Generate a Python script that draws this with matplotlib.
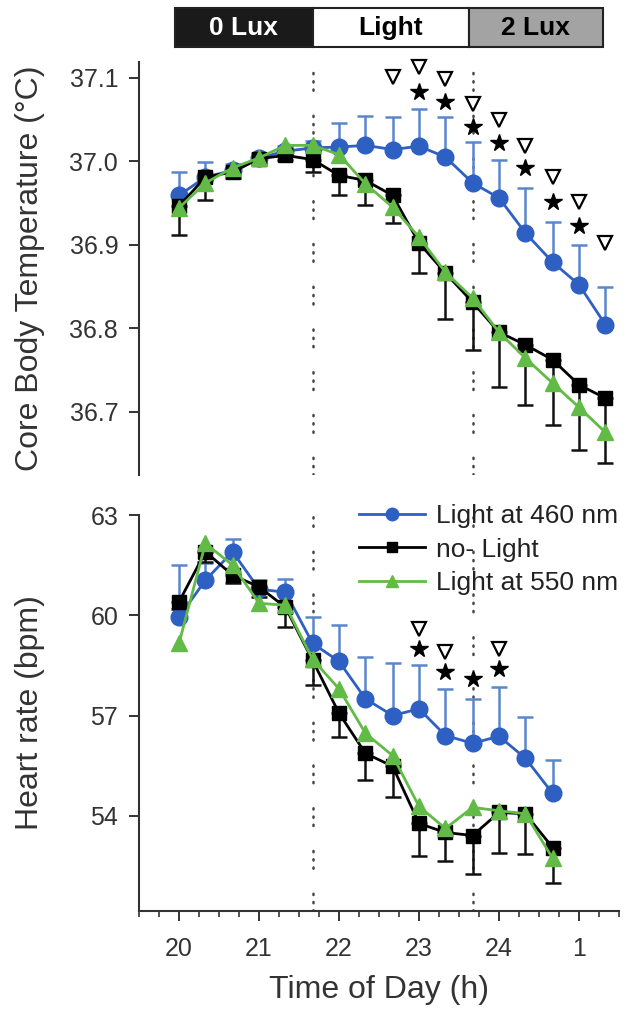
import numpy as np
import matplotlib
matplotlib.use("Agg")
import matplotlib.pyplot as plt
from matplotlib.patches import Rectangle
from matplotlib.ticker import MultipleLocator

plt.rcParams['font.family'] = ['Liberation Sans', 'DejaVu Sans']

# time points (h), 20 min bins
t_temp = [20.0, 20.33, 20.67, 21.0, 21.33, 21.67, 22.0, 22.33, 22.67,
          23.0, 23.33, 23.67, 24.0, 24.33, 24.67, 25.0, 25.33]
t_hr = t_temp[:15]

# core body temperature (°C)
temp_460 = [36.959, 36.981, 36.989, 37.004, 37.012, 37.016, 37.017, 37.019, 37.014,
            37.018, 37.005, 36.974, 36.956, 36.914, 36.879, 36.852, 36.804]
temp_460_err = [0.028, 0.018, 0.008, 0.006, 0.006, 0.008, 0.029, 0.035, 0.039,
                0.044, 0.048, 0.049, 0.046, 0.054, 0.048, 0.048, 0.045]
temp_dark = [36.946, 36.981, 36.987, 37.003, 37.007, 37.002, 36.983, 36.977, 36.959,
             36.902, 36.866, 36.831, 36.795, 36.780, 36.762, 36.732, 36.716]
temp_dark_err = [0.035, 0.028, 0.007, 0.005, 0.005, 0.015, 0.023, 0.030, 0.033,
                 0.036, 0.055, 0.057, 0.066, 0.072, 0.078, 0.078, 0.078]
temp_550 = [36.944, 36.974, 36.992, 37.004, 37.019, 37.019, 37.008, 36.973, 36.945,
            36.909, 36.867, 36.836, 36.795, 36.764, 36.734, 36.705, 36.675]

# heart rate (bpm)
hr_460 = [59.94, 61.05, 61.9, 60.78, 60.69, 59.16, 58.62, 57.5, 57.0,
          57.2, 56.4, 56.17, 56.38, 55.72, 54.67]
hr_460_err = [1.56, 0.5, 0.37, 0.27, 0.41, 0.78, 1.08, 1.24, 1.56,
              1.3, 1.38, 1.31, 1.46, 1.25, 0.99]
hr_dark = [60.4, 61.9, 61.2, 60.85, 60.24, 58.65, 57.07, 55.87, 55.48,
           53.77, 53.5, 53.41, 54.1, 54.06, 53.05]
hr_dark_err = [0.2, 0.3, 0.24, 0.3, 0.6, 0.75, 0.72, 0.81, 0.93,
               0.97, 0.84, 1.14, 1.2, 1.19, 1.07]
hr_550 = [59.16, 62.15, 61.5, 60.36, 60.3, 58.68, 57.8, 56.47, 55.8,
          54.28, 53.62, 54.25, 54.15, 54.06, 52.73]

# significance marks
tri_t_x = [22.67, 23.0, 23.33, 23.67, 24.0, 24.33, 24.67, 25.0, 25.33]
tri_t_y = [37.101, 37.113, 37.099, 37.069, 37.049, 37.018, 36.981, 36.951, 36.902]
star_t_x = [23.0, 23.33, 23.67, 24.0, 24.33, 24.67, 25.0]
star_t_y = [37.083, 37.071, 37.041, 37.022, 36.992, 36.951, 36.922]
tri_h_x = [23.0, 23.33, 24.0]
tri_h_y = [59.58, 58.89, 58.98]
star_h_x = [23.0, 23.33, 23.67, 24.0]
star_h_y = [58.98, 58.29, 58.08, 58.38]

# lighting schedule
phase_edges = [19.95, 21.67, 23.62, 25.3]
phase_names = ['0 Lux', 'Light', '2 Lux']
phase_fill = ['#1a1a1a', 'white', '#a3a3a3']
phase_text = ['white', 'black', 'black']

light_on = [21.67, 23.67]
hour_ticks = [20, 21, 22, 23, 24, 25]
hour_labels = ['20', '21', '22', '23', '24', '1']

BLUE = '#2e5fc2'
BLUE_ERR = '#5a86cc'
GREEN = '#62bb46'

fig = plt.figure(figsize=(6.27, 10.17), dpi=100)
ax_bar = fig.add_axes([0.2217, 0.9538, 0.7656, 0.0383])
ax_t = fig.add_axes([0.2217, 0.5330, 0.7656, 0.4061])
ax_h = fig.add_axes([0.2217, 0.1042, 0.7656, 0.3894])

# schedule bar
ax_bar.set_xlim(19.5, 25.5)
ax_bar.set_ylim(0, 1)
ax_bar.axis('off')
for i, name in enumerate(phase_names):
    x0, x1 = phase_edges[i], phase_edges[i + 1]
    ax_bar.add_patch(Rectangle((x0, 0), x1 - x0, 1, facecolor=phase_fill[i],
                               edgecolor='#222222', lw=1.5, clip_on=False))
    ax_bar.text((x0 + x1) / 2, 0.5, name, color=phase_text[i], ha='center',
                va='center', fontsize=19, fontweight='bold')


def draw_series(ax, x, y460, e460, ydark, edark, y550):
    ax.errorbar(x, y460, yerr=[np.zeros(len(e460)), e460], fmt='none',
                ecolor=BLUE_ERR, elinewidth=1.8, capsize=6, capthick=1.8, zorder=2)
    ax.errorbar(x, ydark, yerr=[edark, np.zeros(len(edark))], fmt='none',
                ecolor='#111111', elinewidth=1.8, capsize=6, capthick=1.8, zorder=2)
    ax.plot(x, y460, color=BLUE, lw=2.0, marker='o', ms=12, mfc=BLUE, mec=BLUE,
            zorder=3, label='Light at 460 nm')
    ax.plot(x, ydark, color='black', lw=2.0, marker='s', ms=10, mfc='black',
            mec='black', zorder=4, label='no- Light')
    ax.plot(x, y550, color=GREEN, lw=2.0, marker='^', ms=12, mfc=GREEN, mec=GREEN,
            zorder=5, label='Light at 550 nm')
    for xv in light_on:
        ax.axvline(xv, color='#444444', lw=1.8, dashes=(0.5, 2.8, 0.5, 2.8, 0.5, 10),
                   dash_capstyle='round', zorder=1)


draw_series(ax_t, t_temp, temp_460, temp_460_err, temp_dark, temp_dark_err, temp_550)
draw_series(ax_h, t_hr, hr_460, hr_460_err, hr_dark, hr_dark_err, hr_550)

for ax, tx, ty, sx, sy in [(ax_t, tri_t_x, tri_t_y, star_t_x, star_t_y),
                           (ax_h, tri_h_x, tri_h_y, star_h_x, star_h_y)]:
    ax.plot(tx, ty, ls='none', marker='v', ms=10, mfc='white', mec='black',
            mew=1.6, clip_on=False, zorder=6)
    ax.plot(sx, sy, ls='none', marker='*', ms=13, mfc='black', mec='black',
            clip_on=False, zorder=6)

for ax in (ax_t, ax_h):
    ax.set_xlim(19.5, 25.5)
    for side in ('top', 'right'):
        ax.spines[side].set_visible(False)
    ax.spines['left'].set_linewidth(1.5)
    ax.spines['left'].set_color('#333333')
    ax.tick_params(axis='y', direction='out', length=7, width=1.4, pad=8,
                   labelsize=18, colors='#333333')

# temperature panel
ax_t.set_ylim(36.624, 37.119)
ax_t.set_yticks([36.7, 36.8, 36.9, 37.0, 37.1])
ax_t.spines['bottom'].set_visible(False)
ax_t.tick_params(axis='x', bottom=False, labelbottom=False)
ax_t.set_ylabel('Core Body Temperature (°C)', fontsize=23, color='#333333')
ax_t.yaxis.set_label_coords(-0.196, 0.5)

# heart rate panel
ax_h.set_ylim(51.15, 63)
ax_h.set_yticks([54, 57, 60, 63])
ax_h.spines['bottom'].set_linewidth(1.5)
ax_h.spines['bottom'].set_color('#333333')
ax_h.set_xticks(hour_ticks)
ax_h.set_xticklabels(hour_labels)
ax_h.xaxis.set_minor_locator(MultipleLocator(0.25))
ax_h.tick_params(axis='x', which='major', direction='out', length=7, width=1.4,
                 pad=12, labelsize=18, colors='#333333')
ax_h.tick_params(axis='x', which='minor', direction='out', length=4, width=1.2,
                 colors='#333333')
ax_h.set_ylabel('Heart rate (bpm)', fontsize=23, color='#333333')
ax_h.yaxis.set_label_coords(-0.196, 0.5)
ax_h.set_xlabel('Time of Day (h)', fontsize=23, color='#333333', labelpad=10)

ax_h.legend(loc='upper left', bbox_to_anchor=(0.43, 1.06), frameon=False,
            fontsize=19, handlelength=2.5, handletextpad=0.45, labelspacing=0.35,
            borderpad=0, markerscale=0.75, labelcolor='#222222')

fig.savefig('out.png', dpi=100)
